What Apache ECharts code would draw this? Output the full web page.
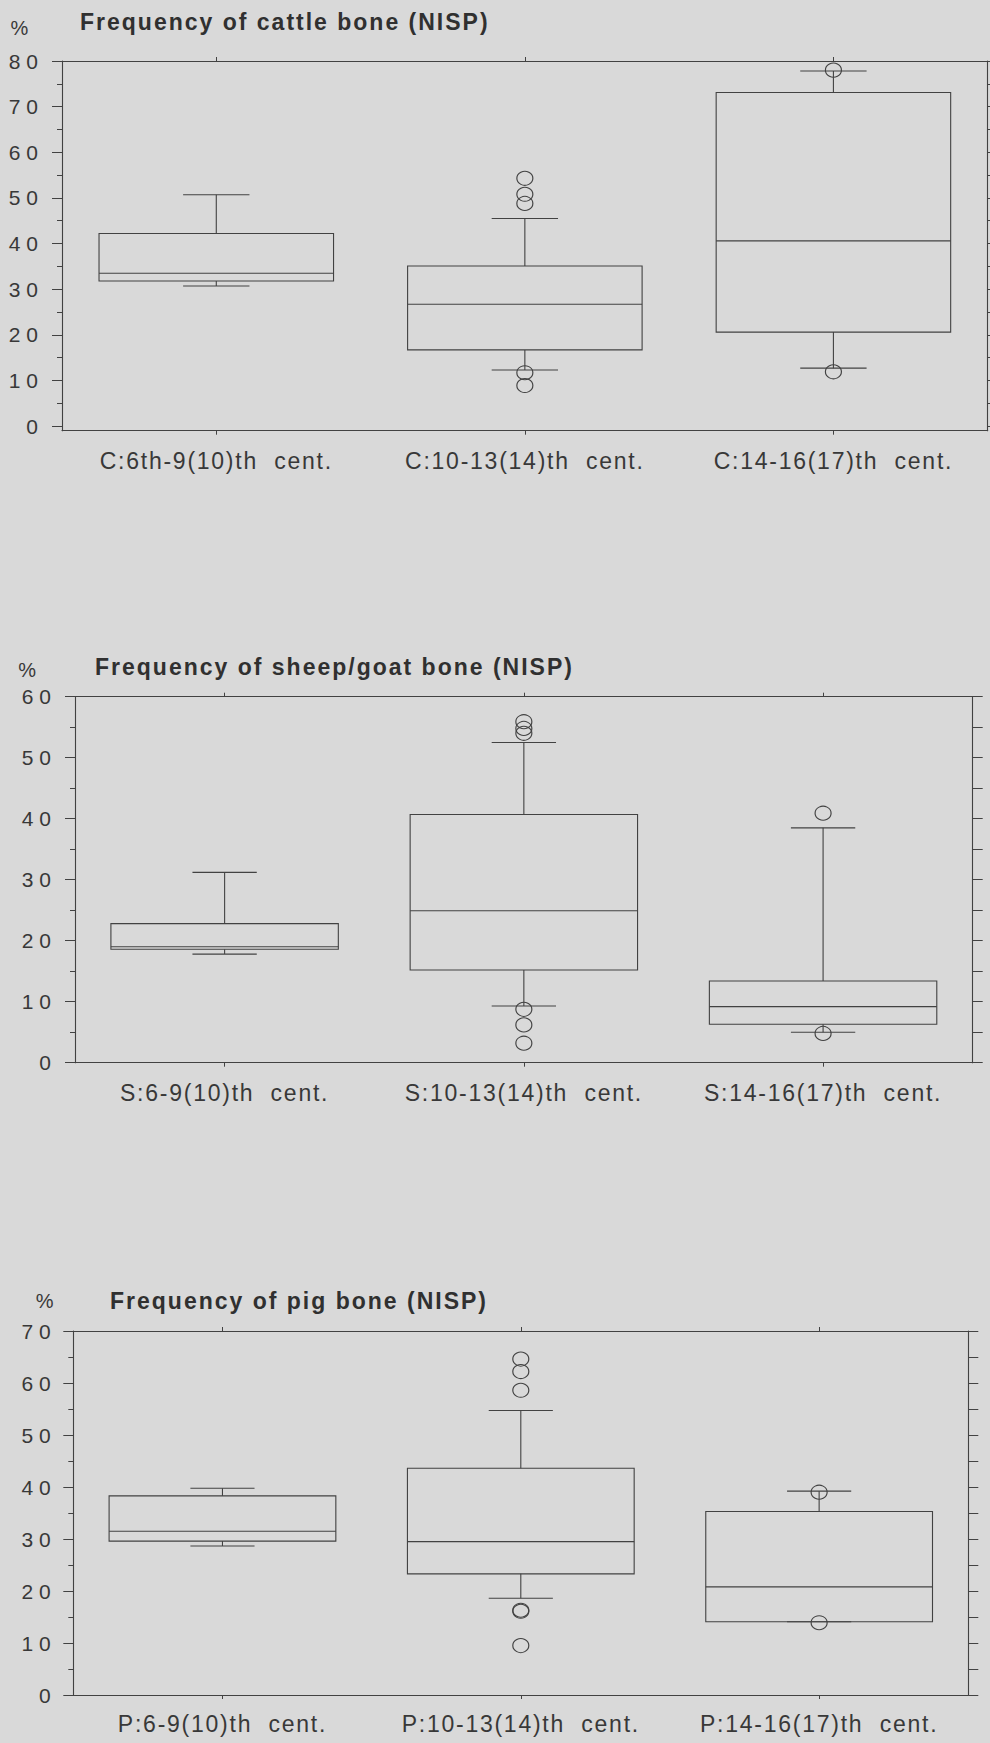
<!DOCTYPE html>
<html>
<head>
<meta charset="utf-8">
<script src="https://cdn.jsdelivr.net/npm/echarts@6/dist/echarts.min.js"></script>
<style>
html, body { margin: 0; padding: 0; background: #d9d9d9; }
#chart { width: 990px; height: 1743px; }
#chart text { letter-spacing: 1.75px; white-space: pre; }
#chart text[style*="bold"] { letter-spacing: 2px; }
#chart text[text-anchor="end"] { letter-spacing: 6px; }
</style>
</head>
<body>
<div id="chart"></div>
<script>
// ---------------- DATA ----------------
// box values: [lower whisker, Q1, median, Q3, upper whisker]
const CATTLE_TITLE = 'Frequency of cattle bone (NISP)';
const CATTLE_CATEGORIES = ['C:6th-9(10)th  cent.', 'C:10-13(14)th  cent.', 'C:14-16(17)th  cent.'];
const CATTLE_BOXES = [
  [30.7, 31.8, 33.5, 42.2, 50.7],
  [12.3, 16.7, 26.7, 35.1, 45.5],
  [12.7, 20.6, 40.6, 73.1, 77.8]
];
const CATTLE_OUTLIERS = [[1, 54.3], [1, 50.8], [1, 48.8], [1, 11.7], [1, 8.9], [2, 78.0], [2, 11.9]];
const CATTLE_Y_TICKS = [0, 10, 20, 30, 40, 50, 60, 70, 80];
const CATTLE_Y_MINOR = [5, 15, 25, 35, 45, 55, 65, 75];
const CATTLE_FRAME_TICKS = [0, 5, 10, 15, 20, 25, 30, 35, 40, 45, 50, 55, 60, 65, 70, 75, 80];

const SHEEP_TITLE = 'Frequency of sheep/goat bone (NISP)';
const SHEEP_CATEGORIES = ['S:6-9(10)th  cent.', 'S:10-13(14)th  cent.', 'S:14-16(17)th  cent.'];
const SHEEP_BOXES = [
  [17.8, 18.6, 19.0, 22.8, 31.2],
  [9.3, 15.2, 24.9, 40.7, 52.5],
  [5.0, 6.3, 9.2, 13.4, 38.5]
];
const SHEEP_OUTLIERS = [[1, 55.9], [1, 54.8], [1, 54.0], [1, 8.75], [1, 6.2], [1, 3.2], [2, 40.9], [2, 4.8]];
const SHEEP_Y_TICKS = [0, 10, 20, 30, 40, 50, 60];
const SHEEP_Y_MINOR = [5, 15, 25, 35, 45, 55];
const SHEEP_FRAME_TICKS = [0, 5, 10, 15, 20, 25, 30, 35, 40, 45, 50, 55, 60];

const PIG_TITLE = 'Frequency of pig bone (NISP)';
const PIG_CATEGORIES = ['P:6-9(10)th  cent.', 'P:10-13(14)th  cent.', 'P:14-16(17)th  cent.'];
const PIG_BOXES = [
  [28.65, 29.6, 31.5, 38.3, 39.75],
  [18.6, 23.3, 29.5, 43.6, 54.7],
  [14.1, 14.1, 20.8, 35.3, 39.2]
];
const PIG_OUTLIERS = [[1, 64.6], [1, 62.2], [1, 58.6], [1, 16.3], [1, 16.1], [1, 9.5], [2, 39.0], [2, 13.9]];
const PIG_Y_TICKS = [0, 10, 20, 30, 40, 50, 60, 70];
const PIG_Y_MINOR = [5, 15, 25, 35, 45, 55, 65];
const PIG_FRAME_TICKS = [0, 5, 10, 15, 20, 25, 30, 35, 40, 45, 50, 55, 60, 65, 70];

const UNIT_LABEL = '%';

// ---------------- STYLE / LAYOUT ----------------
const FONT = '"Liberation Sans", Arial, Helvetica, sans-serif';
const LINE = '#424242';
const TEXT = '#383838';
const BOX_RATIO = 0.76;
const CAP_RATIO = 0.215;

const panels = [
  { title: CATTLE_TITLE, cats: CATTLE_CATEGORIES, boxes: CATTLE_BOXES, outliers: CATTLE_OUTLIERS,
    majors: CATTLE_Y_TICKS, minors: CATTLE_Y_MINOR, frame: CATTLE_FRAME_TICKS, yMin: -1, yMax: 80,
    layout: { left: 62, right: 2.3, top: 61, height: 369.7, yLabelMargin: 18, xLabelMargin: 19,
              titleX: 80, titleY: 21.7, pctX: 20.3, pctY: 27.7 } },
  { title: SHEEP_TITLE, cats: SHEEP_CATEGORIES, boxes: SHEEP_BOXES, outliers: SHEEP_OUTLIERS,
    majors: SHEEP_Y_TICKS, minors: SHEEP_Y_MINOR, frame: SHEEP_FRAME_TICKS, yMin: 0, yMax: 60,
    layout: { left: 75, right: 17.3, top: 696.7, height: 366, yLabelMargin: 18, xLabelMargin: 18.8,
              titleX: 95, titleY: 666.7, pctX: 28, pctY: 669.5 } },
  { title: PIG_TITLE, cats: PIG_CATEGORIES, boxes: PIG_BOXES, outliers: PIG_OUTLIERS,
    majors: PIG_Y_TICKS, minors: PIG_Y_MINOR, frame: PIG_FRAME_TICKS, yMin: 0, yMax: 70,
    layout: { left: 73.3, right: 21.7, top: 1331, height: 364, yLabelMargin: 16.5, xLabelMargin: 17.5,
              titleX: 110, titleY: 1301.3, pctX: 45.5, pctY: 1301 } }
];

function renderBox(params, api) {
  const x = api.value(0);
  const pMin = api.coord([x, api.value(1)]);
  const pQ1 = api.coord([x, api.value(2)]);
  const pMed = api.coord([x, api.value(3)]);
  const pQ3 = api.coord([x, api.value(4)]);
  const pMax = api.coord([x, api.value(5)]);
  const band = api.size([1, 0])[0];
  const bw = band * BOX_RATIO;
  const cw = band * CAP_RATIO;
  const cx = pMed[0];
  const st = { stroke: LINE, fill: 'none', lineWidth: 1.1 };
  return {
    type: 'group',
    children: [
      { type: 'rect', shape: { x: cx - bw / 2, y: pQ3[1], width: bw, height: pQ1[1] - pQ3[1] }, style: st },
      { type: 'line', shape: { x1: cx - bw / 2, y1: pMed[1], x2: cx + bw / 2, y2: pMed[1] }, style: st },
      { type: 'line', shape: { x1: cx, y1: pQ3[1], x2: cx, y2: pMax[1] }, style: st },
      { type: 'line', shape: { x1: cx, y1: pQ1[1], x2: cx, y2: pMin[1] }, style: st },
      { type: 'line', shape: { x1: cx - cw / 2, y1: pMax[1], x2: cx + cw / 2, y2: pMax[1] }, style: st },
      { type: 'line', shape: { x1: cx - cw / 2, y1: pMin[1], x2: cx + cw / 2, y2: pMin[1] }, style: st }
    ]
  };
}

const grid = [], xAxis = [], yAxis = [], series = [], graphic = [];

panels.forEach((p, k) => {
  const L = p.layout;
  grid.push({ left: L.left, right: L.right, top: L.top, height: L.height, containLabel: false, outerBoundsMode: 'none' });
  const xBase = {
    type: 'category', gridIndex: k, data: p.cats, boundaryGap: true,
    axisLine: { show: true, onZero: false, lineStyle: { color: LINE, width: 1.1 } },
    splitLine: { show: false }
  };
  xAxis.push(Object.assign({}, xBase, {
    position: 'bottom',
    axisTick: { show: true, alignWithLabel: true, length: 4, lineStyle: { color: LINE } },
    axisLabel: { show: true, interval: 0, margin: L.xLabelMargin, color: TEXT, fontFamily: FONT, fontSize: 23 }
  }));
  xAxis.push(Object.assign({}, xBase, {
    position: 'top',
    axisTick: { show: true, alignWithLabel: true, length: 4, lineStyle: { color: LINE } },
    axisLabel: { show: false }
  }));
  const yBase = {
    type: 'value', gridIndex: k, min: p.yMin, max: p.yMax, splitLine: { show: false },
    axisLine: { show: true, onZero: false, lineStyle: { color: LINE, width: 1.1 } }
  };
  yAxis.push(Object.assign({}, yBase, {
    position: 'left',
    axisTick: { show: true, length: 10, customValues: p.majors, lineStyle: { color: LINE } },
    axisLabel: { show: true, customValues: p.majors, margin: L.yLabelMargin, color: TEXT, fontFamily: FONT, fontSize: 21 }
  }));
  yAxis.push(Object.assign({}, yBase, {
    position: 'left',
    axisLine: { show: false },
    axisTick: { show: true, length: 5, customValues: p.minors, lineStyle: { color: LINE } },
    axisLabel: { show: false }
  }));
  yAxis.push(Object.assign({}, yBase, {
    position: 'right',
    axisTick: { show: true, length: 10, customValues: p.frame, lineStyle: { color: LINE } },
    axisLabel: { show: false }
  }));
  series.push({
    type: 'custom', xAxisIndex: 2 * k, yAxisIndex: 3 * k, silent: true, clip: false,
    data: p.boxes.map((b, i) => [i].concat(b)),
    encode: { x: 0, y: [1, 2, 3, 4, 5] },
    renderItem: renderBox
  });
  series.push({
    type: 'scatter', xAxisIndex: 2 * k, yAxisIndex: 3 * k, silent: true,
    data: p.outliers, symbol: 'circle', symbolSize: [16, 14],
    itemStyle: { color: 'rgba(0,0,0,0)', borderColor: LINE, borderWidth: 1.1, opacity: 1 },
    emphasis: { disabled: true }
  });
  graphic.push({
    type: 'text', x: L.titleX, y: L.titleY, silent: true,
    style: { text: p.title, fill: '#303030', font: 'bold 23px ' + FONT,
             textAlign: 'left', textVerticalAlign: 'middle', align: 'left', verticalAlign: 'middle' }
  });
  graphic.push({
    type: 'text', x: L.pctX, y: L.pctY, silent: true,
    style: { text: UNIT_LABEL, fill: TEXT, font: '20px ' + FONT,
             textAlign: 'center', textVerticalAlign: 'middle', align: 'center', verticalAlign: 'middle' }
  });
});

const chart = echarts.init(document.getElementById('chart'), null, { renderer: 'svg', width: 990, height: 1743 });
chart.setOption({
  backgroundColor: '#d9d9d9',
  animation: false,
  grid: grid,
  xAxis: xAxis,
  yAxis: yAxis,
  series: series,
  graphic: graphic
});
</script>
</body>
</html>
